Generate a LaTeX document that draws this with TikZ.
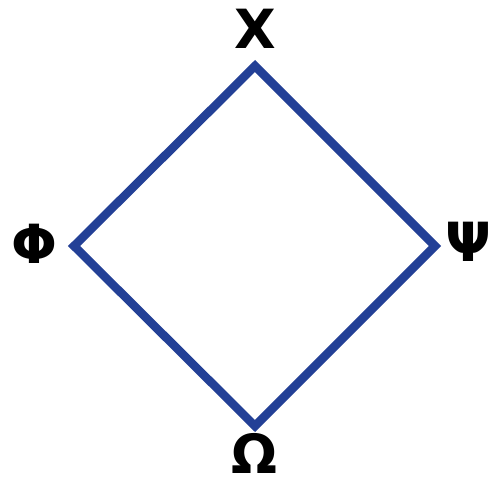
\documentclass[tikz,border=0pt]{standalone}
\usepackage{fontspec}
\setmainfont{DejaVu Sans}
\definecolor{edgeblue}{RGB}{35,64,150}
\begin{document}
\begin{tikzpicture}[
  x=1pt, y=-1pt,
  every node/.style={font=\bfseries\fontsize{54}{58}\selectfont, inner sep=0pt},
  side/.style={draw=edgeblue, line width=8.5pt, miter limit=10}
]
\useasboundingbox (0,0) rectangle (492,484);
\coordinate (top) at (255,66);
\coordinate (left) at (74,246);
\coordinate (right) at (435,246);
\coordinate (bottom) at (255,426);
\node (chi) at (255,29) {Χ};
\node (phi) at (34,244) {Φ};
\node (psi) at (468,242) {Ψ};
\node (omega) at (254,453) {Ω};
\draw[side] (top) -- (right) -- (bottom) -- (left) -- cycle;
\end{tikzpicture}
\end{document}
